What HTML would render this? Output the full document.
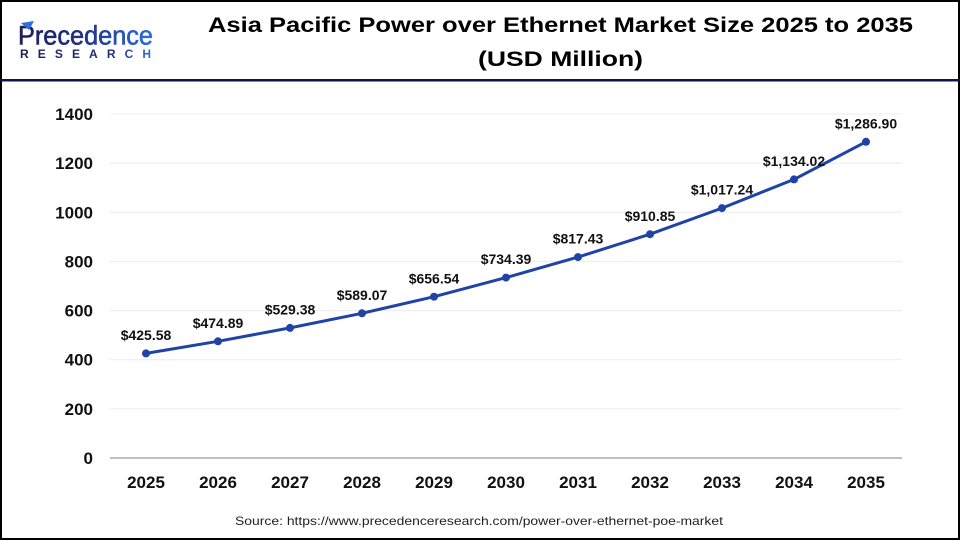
<!DOCTYPE html>
<html>
<head>
<meta charset="utf-8">
<style>
  html,body{margin:0;padding:0;background:#fff;}
  svg{display:block;}
  text{font-family:"Liberation Sans",Arial,sans-serif;}
</style>
</head>
<body>
<svg width="960" height="540" viewBox="0 0 960 540" xmlns="http://www.w3.org/2000/svg">
  <defs>
    <linearGradient id="lg" x1="0" y1="0" x2="1" y2="0">
      <stop offset="0" stop-color="#1b1f5e"/>
      <stop offset="0.45" stop-color="#1f2f80"/>
      <stop offset="1" stop-color="#2f6fd8"/>
    </linearGradient>
    <linearGradient id="lg2" x1="0" y1="0" x2="1" y2="0">
      <stop offset="0" stop-color="#1b1f5e"/>
      <stop offset="0.7" stop-color="#1f2f80"/>
      <stop offset="1" stop-color="#2f6fd8"/>
    </linearGradient>
  </defs>
  <rect x="0" y="0" width="960" height="540" fill="#fff"/>
  <!-- frame -->
  <rect x="1" y="1" width="958" height="538" fill="none" stroke="#000" stroke-width="2"/>
  <!-- header separator -->
  <rect x="0" y="79" width="960" height="2.5" fill="#0f1545"/>

  <!-- logo -->
  <text x="18" y="44.5" font-size="27" fill="url(#lg)" stroke="url(#lg)" stroke-width="0.6" textLength="135" lengthAdjust="spacingAndGlyphs">Precedence</text>
  <path d="M21 23 L34 21 L29 30 Z" fill="#2f6fd8"/>
  <text x="20" y="58" font-size="12" font-weight="bold" fill="url(#lg2)" textLength="131" lengthAdjust="spacing">RESEARCH</text>

  <!-- title -->
  <text x="208" y="32" font-size="21" font-weight="bold" fill="#000" textLength="705" lengthAdjust="spacingAndGlyphs">Asia Pacific Power over Ethernet Market Size 2025 to 2035</text>
  <text x="478" y="66" font-size="21" font-weight="bold" fill="#000" textLength="165" lengthAdjust="spacingAndGlyphs">(USD Million)</text>

  <!-- gridlines -->
  <g stroke="#ececec" stroke-width="1">
    <line x1="110" y1="114" x2="902" y2="114"/>
    <line x1="110" y1="163.1" x2="902" y2="163.1"/>
    <line x1="110" y1="212.3" x2="902" y2="212.3"/>
    <line x1="110" y1="261.4" x2="902" y2="261.4"/>
    <line x1="110" y1="310.6" x2="902" y2="310.6"/>
    <line x1="110" y1="359.7" x2="902" y2="359.7"/>
    <line x1="110" y1="408.9" x2="902" y2="408.9"/>
  </g>
  <line x1="110" y1="458" x2="902" y2="458" stroke="#bfbfbf" stroke-width="2"/>

  <!-- y labels -->
  <g font-size="17" font-weight="bold" fill="#111" text-anchor="end">
    <text x="93" y="120">1400</text>
    <text x="93" y="169.1">1200</text>
    <text x="93" y="218.3">1000</text>
    <text x="93" y="267.4">800</text>
    <text x="93" y="316.6">600</text>
    <text x="93" y="365.7">400</text>
    <text x="93" y="414.9">200</text>
    <text x="93" y="464">0</text>
  </g>

  <!-- x labels -->
  <g font-size="17" font-weight="bold" fill="#111" text-anchor="middle">
    <text x="146" y="488">2025</text>
    <text x="218" y="488">2026</text>
    <text x="290" y="488">2027</text>
    <text x="362" y="488">2028</text>
    <text x="434" y="488">2029</text>
    <text x="506" y="488">2030</text>
    <text x="578" y="488">2031</text>
    <text x="650" y="488">2032</text>
    <text x="722" y="488">2033</text>
    <text x="794" y="488">2034</text>
    <text x="866" y="488">2035</text>
  </g>

  <!-- series -->
  <polyline fill="none" stroke="#1f43a6" stroke-width="3" stroke-linejoin="round"
    points="146,353.4 218,341.3 290,327.9 362,313.3 434,296.7 506,277.6 578,257.1 650,234.2 722,208.1 794,179.4 866,141.8"/>
  <g fill="#1f43a6">
    <circle cx="146" cy="353.4" r="4"/>
    <circle cx="218" cy="341.3" r="4"/>
    <circle cx="290" cy="327.9" r="4"/>
    <circle cx="362" cy="313.3" r="4"/>
    <circle cx="434" cy="296.7" r="4"/>
    <circle cx="506" cy="277.6" r="4"/>
    <circle cx="578" cy="257.1" r="4"/>
    <circle cx="650" cy="234.2" r="4"/>
    <circle cx="722" cy="208.1" r="4"/>
    <circle cx="794" cy="179.4" r="4"/>
    <circle cx="866" cy="141.8" r="4"/>
  </g>

  <!-- data labels -->
  <g font-size="14" font-weight="bold" fill="#111" text-anchor="middle">
    <text x="146" y="340">$425.58</text>
    <text x="218" y="328">$474.89</text>
    <text x="290" y="314.5">$529.38</text>
    <text x="362" y="300">$589.07</text>
    <text x="434" y="283.3">$656.54</text>
    <text x="506" y="264.2">$734.39</text>
    <text x="578" y="243.7">$817.43</text>
    <text x="650" y="220.8">$910.85</text>
    <text x="722" y="194.7">$1,017.24</text>
    <text x="794" y="166">$1,134.02</text>
    <text x="866" y="128.4">$1,286.90</text>
  </g>

  <!-- source -->
  <text x="235" y="525" font-size="12" fill="#222" textLength="488" lengthAdjust="spacingAndGlyphs">Source: https://www.precedenceresearch.com/power-over-ethernet-poe-market</text>
</svg>
</body>
</html>
